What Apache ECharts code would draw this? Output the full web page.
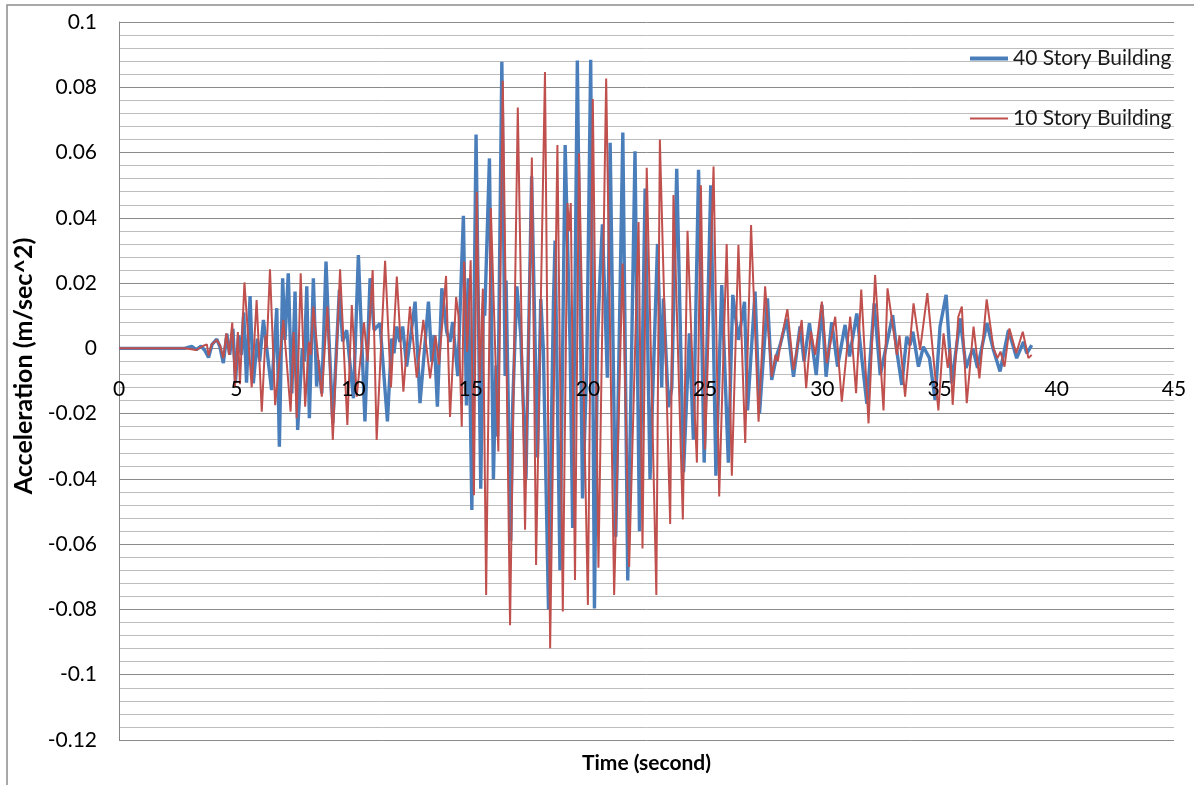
<!DOCTYPE html>
<html>
<head>
<meta charset="utf-8">
<title>Acceleration time history</title>
<script src="https://cdn.jsdelivr.net/npm/echarts@6/dist/echarts.min.js"></script>
<style>
  html, body { margin: 0; padding: 0; background: #ffffff; }
  #chart { width: 1194px; height: 785px; }
</style>
</head>
<body>
<div id="chart"></div>
<script>
// acceleration response of the two buildings, [time (s), acceleration (m/sec^2)]
// values (peaks / troughs mostly)
var story40 = [
  [0,0],[2.8,0],[3.1,0.0006],[3.3,-0.0004],[3.5,0.0007],[3.65,-0.0005],[3.82,-0.0028],[3.97,0.0012],
  [4.17,0.0028],[4.3,0.0005],[4.45,-0.0045],[4.6,0.0045],[4.72,-0.002],[4.86,0.006],[4.97,-0.01],
  [5.1,0.004],[5.22,-0.002],[5.32,0.011],[5.44,-0.0105],[5.59,0.016],[5.73,-0.0107],[5.9,0.003],
  [6.0,-0.004],[6.16,0.0087],[6.51,-0.0128],[6.73,0.0123],[6.84,-0.0301],[6.98,0.0215],[7.08,0.0026],
  [7.22,0.023],[7.37,-0.0138],[7.51,0.0174],[7.62,-0.025],[7.82,0.0],[7.9,-0.004],[8.01,0.019],
  [8.12,-0.0214],[8.29,0.0215],[8.43,-0.0117],[8.5,-0.0036],[8.65,-0.0138],[8.83,0.0266],[8.95,0.004],
  [9.12,-0.023],[9.4,0.0179],[9.54,0.0021],[9.71,0.0056],[10.0,-0.0153],[10.21,0.0286],[10.49,-0.0224],
  [10.71,0.0215],[10.88,0.0056],[11.13,0.0077],[11.45,-0.0224],[11.63,0.003],[11.73,-0.0015],
  [11.85,0.0067],[11.98,0.002],[12.1,0.0067],[12.27,-0.0056],[12.63,0.0143],[12.84,-0.0168],
  [13.2,0.0143],[13.34,-0.0041],[13.44,0.0041],[13.58,-0.0179],[13.77,0.0184],[13.98,0.005],
  [14.12,0.002],[14.23,0.0081],[14.45,-0.0085],[14.69,0.0406],[14.82,-0.0175],[14.9,0.0215],
  [15.05,-0.0495],[15.23,0.0655],[15.43,-0.043],[15.54,0.0138],[15.6,0.01],[15.8,0.0582],
  [15.97,-0.0401],[16.08,-0.0053],[16.15,-0.027],[16.33,0.0878],[16.47,-0.0085],[16.51,0.0208],
  [16.71,-0.059],[16.79,-0.018],[16.97,0.019],[17.14,0.0036],[17.36,-0.04],[17.6,0.0527],
  [17.85,-0.0334],[17.99,0.0151],[18.1,-0.0002],[18.32,-0.08],[18.53,0.0138],[18.6,0.033],
  [18.81,-0.068],[19.03,0.0623],[19.24,0.001],[19.35,-0.055],[19.55,0.0882],[19.77,-0.046],
  [19.95,-0.0066],[20.12,0.0884],[20.28,-0.0797],[20.41,0.0023],[20.52,0.0227],[20.62,0.038],
  [20.83,-0.009],[20.95,0.063],[21.19,-0.0577],[21.49,0.0661],[21.7,-0.0711],[22.01,0.0604],
  [22.2,-0.056],[22.44,0.049],[22.65,-0.04],[22.97,0.032],[23.15,-0.012],[23.22,0.0153],
  [23.44,-0.018],[23.58,-0.012],[23.79,0.055],[24.08,-0.038],[24.33,0.0046],[24.5,-0.028],
  [24.72,0.0547],[24.96,-0.035],[25.24,0.05],[25.46,-0.039],[25.71,0.0194],[25.99,-0.035],
  [26.18,0.0164],[26.42,0.0026],[26.68,0.0143],[26.81,-0.019],[27.13,0.0174],[27.32,-0.02],
  [27.66,0.0153],[27.84,-0.0097],[28.06,-0.002],[28.2,0.001],[28.48,0.009],[28.77,-0.0087],
  [29.05,0.0067],[29.22,-0.004],[29.45,0.0077],[29.74,-0.0082],[29.98,0.0133],[30.16,-0.0087],
  [30.4,0.008],[30.65,-0.0056],[30.97,0.0072],[31.16,-0.0025],[31.47,0.0107],[31.9,-0.017],
  [32.21,0.0138],[32.47,-0.0082],[33.0,0.0102],[33.17,-0.0005],[33.39,-0.0112],[33.6,0.0036],
  [33.74,0.001],[33.86,0.0051],[34.1,-0.0056],[34.31,0.0005],[34.57,-0.003],[34.81,-0.0158],
  [35.02,0.0067],[35.28,0.0164],[35.52,-0.0107],[35.88,0.0092],[36.13,-0.006],[36.42,0.0],
  [36.62,-0.006],[37.02,0.0077],[37.3,-0.0005],[37.58,-0.0071],[37.94,0.0056],[38.29,-0.003],
  [38.58,0.002],[38.72,-0.0015],[38.93,0.001]
];
var story10 = [
  [0,0],[2.8,0],[3.3,-0.0005],[3.6,0.0008],[3.75,0.0012],[3.82,-0.0022],[3.95,0.0012],[4.17,0.0026],
  [4.32,0.0008],[4.45,-0.003],[4.58,0.0046],[4.7,-0.002],[4.83,0.0079],[4.95,-0.0117],[5.07,0.005],
  [5.16,-0.011],[5.35,0.0202],[5.66,-0.012],[5.87,0.0148],[6.09,-0.0194],[6.25,0.004],[6.3,0.0],
  [6.44,0.0242],[6.66,-0.0174],[7.01,0.0087],[7.32,-0.0194],[7.45,0.005],[7.58,-0.0214],[7.75,0.023],
  [7.94,-0.0179],[8.1,0.002],[8.18,-0.002],[8.29,0.0128],[8.65,-0.0148],[8.89,0.0128],[9.12,-0.0281],
  [9.43,0.0242],[9.74,-0.0235],[9.93,0.0133],[10.14,-0.0148],[10.45,0.008],[10.6,-0.004],[10.82,0.024],
  [10.99,-0.0281],[11.35,0.0268],[11.6,-0.012],[11.85,0.022],[12.13,-0.0133],[12.41,0.0128],
  [12.7,-0.009],[12.98,0.0087],[13.27,-0.0092],[13.5,0.004],[13.65,-0.005],[13.95,0.0222],
  [14.12,-0.021],[14.38,0.0157],[14.48,0.01],[14.62,-0.024],[14.72,0.0266],[14.85,-0.001],
  [15.0,0.027],[15.14,-0.045],[15.26,0.048],[15.38,-0.01],[15.52,0.0183],[15.66,-0.0756],
  [15.86,0.043],[16.18,-0.0316],[16.37,0.082],[16.68,-0.0848],[17.01,0.0738],[17.32,-0.0556],
  [17.61,0.0585],[17.79,-0.0664],[18.17,0.0847],[18.39,-0.0919],[18.7,0.0623],[18.93,-0.0806],
  [19.13,0.0445],[19.2,0.036],[19.27,0.0445],[19.45,-0.071],[19.62,0.0598],[20.0,-0.0786],
  [20.21,0.0764],[20.45,-0.0672],[20.78,0.0827],[21.12,-0.0756],[21.48,0.026],[21.76,-0.067],
  [22.16,0.0387],[22.33,-0.0613],[22.51,0.0553],[22.92,-0.0756],[23.07,0.064],[23.51,-0.0538],
  [23.65,0.047],[24.05,-0.0524],[24.25,0.036],[24.43,0.0005],[24.65,-0.035],[24.82,0.05],
  [25.0,-0.031],[25.36,0.0557],[25.6,-0.0454],[25.92,0.032],[26.14,-0.039],[26.42,0.0317],
  [26.71,-0.029],[26.96,0.0378],[27.28,-0.0225],[27.56,0.019],[27.84,-0.0087],[28.0,-0.002],
  [28.1,-0.004],[28.23,0.002],[28.51,0.012],[28.77,-0.0066],[29.12,0.0087],[29.31,-0.0122],
  [29.51,0.0052],[29.7,-0.002],[29.98,0.0143],[30.19,-0.0045],[30.55,0.0097],[30.83,-0.0163],
  [31.19,0.0097],[31.44,-0.0137],[31.66,0.018],[31.97,-0.023],[32.25,0.0225],[32.61,-0.019],
  [32.78,0.0184],[33.18,-0.002],[33.29,0.004],[33.53,-0.0148],[33.89,0.0138],[34.17,-0.0005],
  [34.48,0.0169],[34.95,-0.019],[35.17,0.0046],[35.35,-0.006],[35.45,0.0],[35.56,-0.0173],
  [35.8,0.0097],[35.95,0.0128],[36.16,-0.0168],[36.45,0.0067],[36.7,-0.0092],[37.01,0.015],
  [37.3,0.0],[37.47,-0.003],[37.6,-0.001],[37.77,-0.0056],[37.98,0.0061],[38.27,-0.0015],
  [38.55,0.0051],[38.79,-0.003],[38.93,-0.002]
];
var seriesNames = ['40 Story Building', '10 Story Building'];
var colors = ['#4a7ebb', '#c0504d'];

var chart = echarts.init(document.getElementById('chart'));
var font = 'Lato, "Open Sans", sans-serif';

// plot box in px, used to put the time axis labels on the zero line
var plotTop = 22, plotBottom = 45, yMin = -0.12, yMax = 0.1;
var plotH = 785 - plotTop - plotBottom;
var zeroShift = plotH * (0 - yMin) / (yMax - yMin);

var option = {
  animation: false,
  backgroundColor: '#ffffff',
  color: colors,
  // outer chart border (only left / top show in the picture)
  graphic: [
    {
      type: 'rect',
      shape: { x: 7, y: 5, width: 1220, height: 820 },
      style: { fill: 'none', stroke: '#8c8c8c', lineWidth: 1.5 },
      silent: true
    }
  ],
  legend: {
    orient: 'vertical',
    left: 963,
    top: 43,
    itemWidth: 38,
    itemHeight: 14,
    itemGap: 39,
    itemStyle: { opacity: 0 },   // line only, no marker
    textStyle: { fontFamily: font, fontSize: 21, color: '#1a1a1a' },
    data: [
      { name: seriesNames[0], lineStyle: { width: 4 } },
      { name: seriesNames[1], lineStyle: { width: 2 } }
    ]
  },
  grid: { left: 119, top: plotTop, right: 20, bottom: plotBottom, outerBoundsMode: 'none', containLabel: false },
  xAxis: {
    type: 'value',
    min: 0,
    max: 45,
    interval: 5,
    offset: -zeroShift,
    z: 10,   // labels sit over the lines, like the original
    name: 'Time (second)',
    nameLocation: 'middle',
    nameGap: 404,
    nameTextStyle: { fontFamily: font, fontSize: 21, fontWeight: 'bold', color: '#000' },
    axisLine: { show: false, onZero: false },
    axisTick: { show: false },
    axisLabel: { margin: 30, fontFamily: font, fontSize: 21, color: '#000' },
    splitLine: { show: false }
  },
  yAxis: {
    type: 'value',
    min: yMin,
    max: yMax,
    interval: 0.02,
    name: 'Acceleration (m/sec^2)',
    nameLocation: 'middle',
    nameGap: 82,
    nameRotate: 90,
    nameTextStyle: { fontFamily: font, fontSize: 25, fontWeight: 'bold', color: '#000', padding: [0, 0, 0, 30] },
    axisLine: { show: true, onZero: false, lineStyle: { color: '#868686', width: 1 } },
    axisTick: { show: false },
    axisLabel: {
      margin: 22,
      fontFamily: font,
      fontSize: 21,
      color: '#000',
      formatter: function (val) {
        return String(parseFloat(val.toFixed(2)));
      }
    },
    splitLine: { show: true, lineStyle: { color: '#8a8a8a', width: 1 } },
    minorTick: { show: false, splitNumber: 5 },
    minorSplitLine: { show: true, lineStyle: { color: '#bdbdbd', width: 1 } }
  },
  series: [
    {
      name: seriesNames[0],
      type: 'line',
      data: story40,
      symbol: 'none',
      lineStyle: { width: 3.4, color: colors[0] },
      z: 2
    },
    {
      name: seriesNames[1],
      type: 'line',
      data: story10,
      symbol: 'none',
      lineStyle: { width: 2, color: colors[1] },
      z: 3
    }
  ]
};

chart.setOption(option);
window.addEventListener('resize', function () {
  chart.resize();
});
</script>
</body>
</html>
